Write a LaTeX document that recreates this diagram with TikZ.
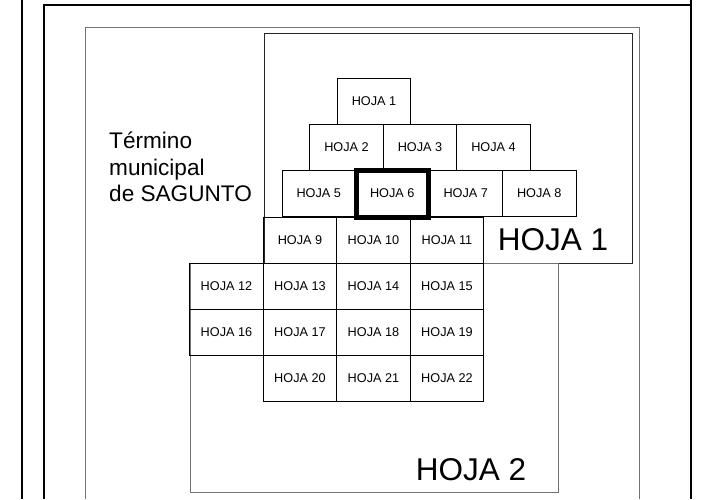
\documentclass[tikz,border=0pt]{standalone}
\usepackage{fontspec}
\setmainfont{Liberation Sans}
\usetikzlibrary{positioning}

\tikzset{
  hoja/.style={draw, line width=0.9pt, minimum width=73.5pt, minimum height=46pt,
    inner sep=0pt, font=\fontsize{12.7}{15}\selectfont},
  marco/.style={draw, line width=2pt},
  zona/.style={draw, black!55, line width=1pt},
  rotulo/.style={inner sep=0pt, font=\fontsize{31.5}{36}\selectfont}
}

\begin{document}
\begin{tikzpicture}[x=1pt, y=-1pt]
\useasboundingbox (0,0) rectangle (710,499);
% frame of the page
\draw[marco] (22,0) -- (22,499);
\draw[marco] (44,499) -- (44,5) -- (691,5);
\draw[marco] (691,0) -- (691,499);
% zones
\draw[zona] (85,499) -- (85,27) -- (639,27) -- (639,499);
\draw[line width=0.9pt, black!85] (264,33) rectangle (632,263);
\draw[zona] (190,263) rectangle (558,492);
% text
\node[inner sep=0pt, anchor=west, align=left, font=\fontsize{22.6}{26.7}\selectfont] (termino) at (109,167) {Término\\municipal\\de SAGUNTO};
\node[rotulo] (rot1) at (553,240) {HOJA 1};
\node[rotulo] (rot2) at (471,470) {HOJA 2};
% sheets
\node[hoja] (h1) at (374,101) {HOJA 1};
\node[hoja] (h2) at (346.5,147) {HOJA 2};
\node[hoja] (h3) at (420,147) {HOJA 3};
\node[hoja] (h4) at (493.5,147) {HOJA 4};
\node[hoja] (h5) at (318.8,193.5) {HOJA 5};
\node[hoja] (h7) at (465.8,193.5) {HOJA 7};
\node[hoja] (h8) at (539.3,193.5) {HOJA 8};
\node[hoja] (h9) at (300,240) {HOJA 9};
\node[hoja] (h10) at (373.5,240) {HOJA 10};
\node[hoja] (h11) at (447,240) {HOJA 11};
\node[hoja] (h12) at (226.5,286) {HOJA 12};
\node[hoja] (h13) at (300,286) {HOJA 13};
\node[hoja] (h14) at (373.5,286) {HOJA 14};
\node[hoja] (h15) at (447,286) {HOJA 15};
\node[hoja] (h16) at (226.5,332) {HOJA 16};
\node[hoja] (h17) at (300,332) {HOJA 17};
\node[hoja] (h18) at (373.5,332) {HOJA 18};
\node[hoja] (h19) at (447,332) {HOJA 19};
\node[hoja] (h20) at (300,378) {HOJA 20};
\node[hoja] (h21) at (373.5,378) {HOJA 21};
\node[hoja] (h22) at (447,378) {HOJA 22};
% selected sheet
\node[hoja, line width=5pt, minimum width=72pt, minimum height=47pt] (h6) at (392.3,193.5) {HOJA 6};
\end{tikzpicture}
\end{document}
